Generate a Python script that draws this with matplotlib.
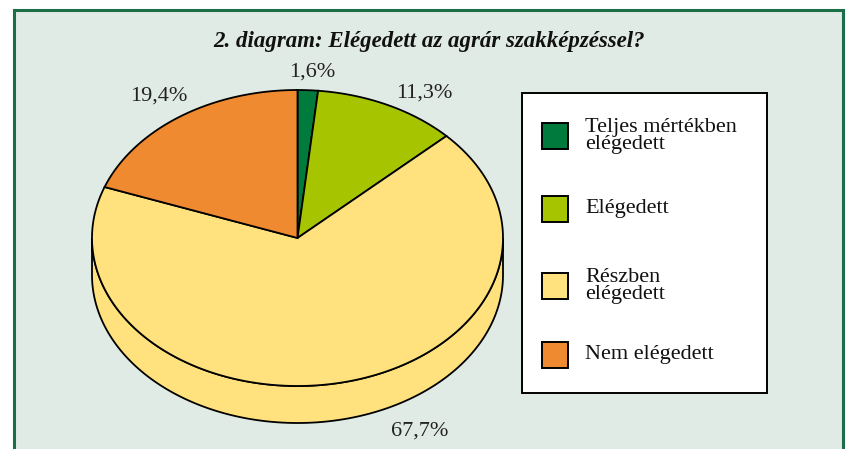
import numpy as np
import matplotlib.pyplot as plt
from matplotlib.patches import Polygon, Rectangle

# adatok
categories = ["Teljes mértékben\nelégedett", "Elégedett", "Részben\nelégedett", "Nem elégedett"]
values = [1.6, 11.3, 67.7, 19.4]
value_labels = ["1,6%", "11,3%", "67,7%", "19,4%"]
colors = ["#007a3d", "#a6c400", "#ffe27e", "#f08a30"]
title = "2. diagram: Elégedett az agrár szakképzéssel?"

# elrendezés (pixel)
W, H = 846, 449
cx, cy, rx, ry, depth = 297.5, 238, 205.5, 148, 37
label_pos = [(312, 72), (424, 93), (420, 431), (159, 96)]
serif = "Liberation Serif"

fig = plt.figure(figsize=(W / 100, H / 100), dpi=100)
ax = fig.add_axes([0, 0, 1, 1])
ax.set_xlim(0, W)
ax.set_ylim(H, 0)
ax.axis("off")

# háttér + keret
ax.add_patch(Rectangle((14, 10), 829, H, facecolor="#e1ebe5", edgecolor="none", zorder=0))
border = "#1c6e46"
ax.plot([14, 14, 843, 843], [H, 10, 10, H], color=border, lw=2.2, solid_joinstyle="miter", zorder=1)


def pt(t, dy=0.0):
    # t: fok, óramutató járásával a 12 órától
    r = np.radians(t)
    return cx + rx * np.sin(r), cy - ry * np.cos(r) + dy


angles = np.cumsum([0] + values) / sum(values) * 360

# oldalfal (csak az elülső fél látszik)
for i in range(len(values)):
    a0, a1 = max(angles[i], 90), min(angles[i + 1], 270)
    if a1 <= a0:
        continue
    ts = np.linspace(a0, a1, 200)
    top = [pt(t) for t in ts]
    bot = [pt(t, depth) for t in ts[::-1]]
    ax.add_patch(Polygon(top + bot, closed=True, facecolor=colors[i],
                         edgecolor="black", lw=1.3, zorder=2))

# felső lap
for i in range(len(values)):
    ts = np.linspace(angles[i], angles[i + 1], 300)
    verts = [(cx, cy)] + [pt(t) for t in ts]
    ax.add_patch(Polygon(verts, closed=True, facecolor=colors[i],
                         edgecolor="black", lw=1.3, joinstyle="miter", zorder=3))

# címkék
for (x, y), s in zip(label_pos, value_labels):
    ax.text(x, y, s, ha="center", va="center", fontsize=16, family=serif,
            color="#222222", zorder=5)

ax.text(429, 42, title, ha="center", va="center", fontsize=16.5, family=serif,
        style="italic", weight="bold", color="#111111", zorder=5)

# jelmagyarázat
ax.add_patch(Rectangle((522, 93), 245, 300, facecolor="white", edgecolor="black",
                       lw=1.4, zorder=4))
legend_y = [136, 209, 286, 355]
for y, c, name in zip(legend_y, colors, categories):
    ax.add_patch(Rectangle((542, y - 13), 26, 26, facecolor=c, edgecolor="black",
                           lw=1.4, zorder=5))
    ax.text(585, y, name, ha="left", va="center", fontsize=16, family=serif,
            linespacing=0.8, color="#111111", zorder=5)

fig.savefig("out.png", dpi=100, facecolor="white")
